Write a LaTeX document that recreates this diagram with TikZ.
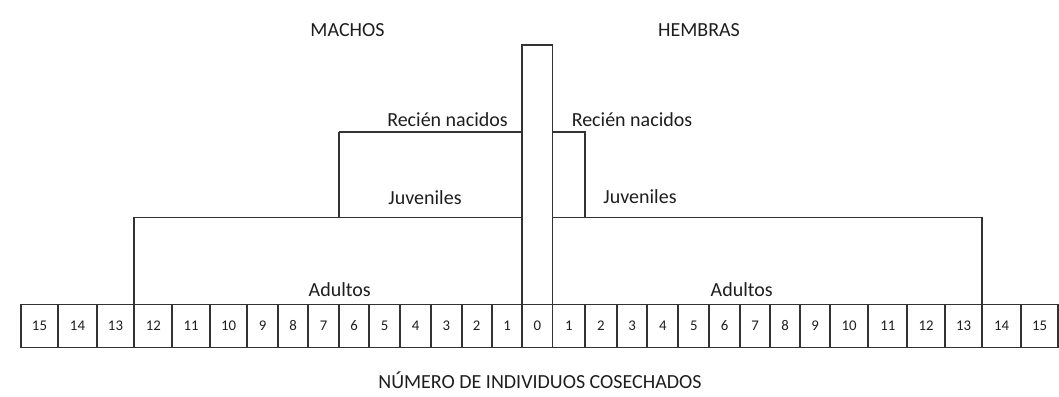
\documentclass[tikz,border=0pt]{standalone}
\usepackage{fontspec}
\setmainfont{Carlito}
\definecolor{linegray}{HTML}{333333}
\definecolor{textgray}{HTML}{1E1E1E}

\tikzset{
  cell/.style={draw=linegray, line width=0.9pt, inner sep=0pt, outer sep=0pt,
    minimum height=21.5pt, text height=4.8pt, text depth=0pt,
    text=textgray, font=\fontsize{7.4}{8}\selectfont},
  outline/.style={draw=linegray, line width=0.9pt},
  lbl/.style={anchor=base, inner sep=0pt, text=textgray, font=\fontsize{10}{12}\selectfont}
}

\begin{document}
\begin{tikzpicture}[x=0.5pt, y=-0.5pt]
    \useasboundingbox (0,0) rectangle (1059,396);
    \coordinate (Top) at (0,45);    % top of the 0 column
    \coordinate (RN)  at (0,132);   % recien nacidos level
    \coordinate (JV)  at (0,217.5); % juveniles level

    % row of boxes, males on the left
    \foreach \n/\xl/\xr in {15/20.7/58.3, 14/58.3/96.7, 13/96.7/134.3,
        12/134.3/172.3, 11/172.3/210, 10/210/247.3, 9/247.3/277.7,
        8/277.7/308.3, 7/308.3/339, 6/339/369, 5/369/400, 4/400/431,
        3/431/461.7, 2/461.7/491.7, 1/491.7/522.3}{%
      \pgfmathsetmacro{\w}{(\xr-\xl)/2}
      \node[cell, minimum width=\w pt] (m\n) at ({(\xl+\xr)/2},326) {\n};
    }
    \node[cell, minimum width=15.1pt] (c0) at (537.4,326) {0};
    % females on the right
    \foreach \n/\xl/\xr in {1/552.5/585, 2/585/616.7, 3/616.7/647.3,
        4/647.3/678.3, 5/678.3/709.3, 6/709.3/740, 7/740/770, 8/770/800,
        9/800/830, 10/830/868.3, 11/868.3/907.3, 12/907.3/945,
        13/945/982.3, 14/982.3/1020.7, 15/1020.7/1058.3}{%
      \pgfmathsetmacro{\w}{(\xr-\xl)/2}
      \node[cell, minimum width=\w pt] (h\n) at ({(\xl+\xr)/2},326) {\n};
    }

    % the steps
    \draw[outline] (c0.north west) -- (c0.north west |- Top)
        -- (c0.north east |- Top) -- (c0.north east);
    \draw[outline] (m6.north west |- RN) -- (c0.north west |- RN);
    \draw[outline] (m6.north west |- RN) -- (m6.north west |- JV);
    \draw[outline] (m12.north west) -- (m12.north west |- JV)
        -- (c0.north west |- JV);
    \draw[outline] (c0.north east |- RN) -- (h1.north east |- RN)
        -- (h1.north east |- JV);
    \draw[outline] (c0.north east |- JV) -- (h13.north east |- JV)
        -- (h13.north east);

    % labels
    \node[lbl] (machos)  at (347.5,36) {MACHOS};
    \node[lbl] (hembras) at (699,36) {HEMBRAS};
    \node[lbl] (rnM) at (447.5,126.7) {Recién nacidos};
    \node[lbl] (rnH) at (632,126.7) {Recién nacidos};
    \node[lbl] (jvM) at (425,204) {Juveniles};
    \node[lbl] (jvH) at (640,203.5) {Juveniles};
    \node[lbl] (adM) at (339.7,296) {Adultos};
    \node[lbl] (adH) at (741.7,296) {Adultos};
    \node[lbl] (numero) at (540,388) {NÚMERO DE INDIVIDUOS COSECHADOS};
\end{tikzpicture}
\end{document}
